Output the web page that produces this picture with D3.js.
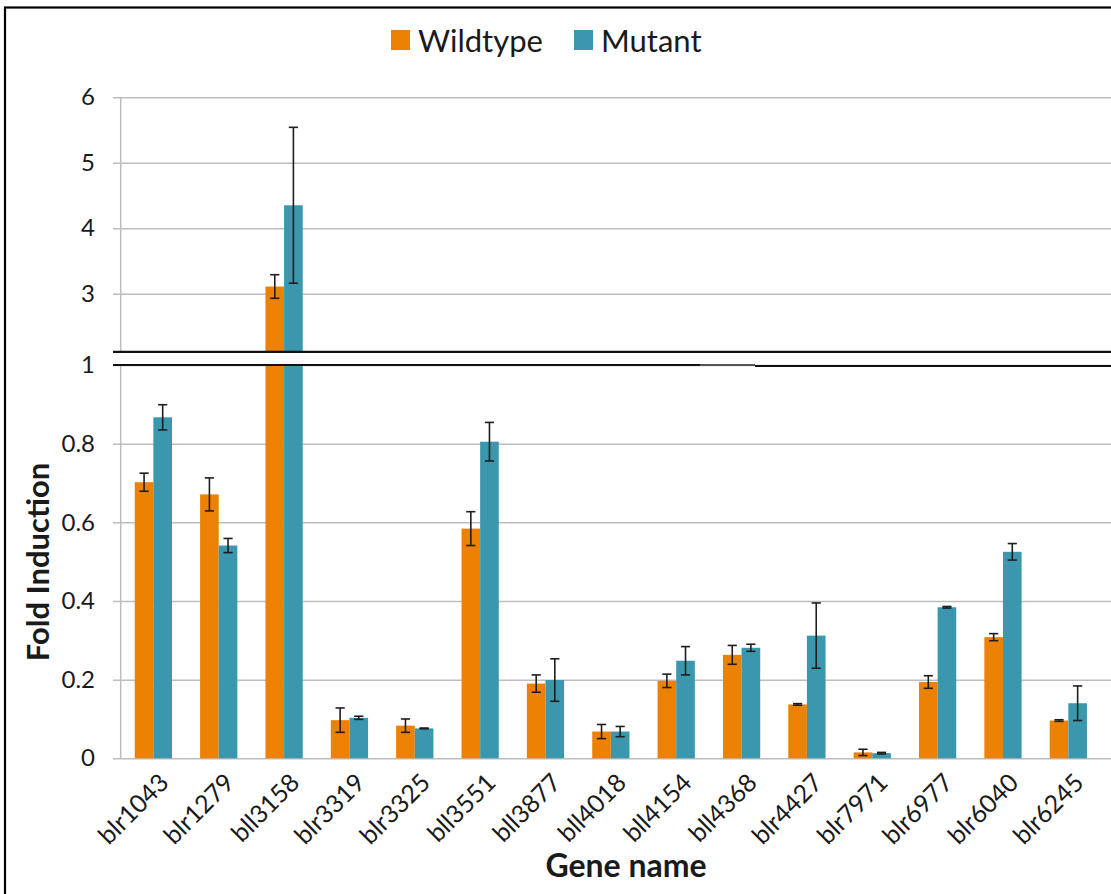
<!DOCTYPE html>
<html>
<head>
<meta charset="utf-8">
<script src="https://cdn.jsdelivr.net/npm/d3@7"></script>
<style>
  html, body { margin: 0; padding: 0; background: #fff; }
  svg { display: block; }
  text { font-family: Lato, "Open Sans", sans-serif; fill: #1a1a1a; }
</style>
</head>
<body>
<script>
// Fold induction per gene, wildtype vs mutant, with a broken y axis
const genes = ["blr1043", "blr1279", "bll3158", "blr3319", "blr3325", "bll3551", "bll3877",
  "bll4018", "bll4154", "bll4368", "blr4427", "blr7971", "blr6977", "blr6040", "blr6245"];
const wildtype    = [0.702, 0.671, 3.11, 0.097, 0.083, 0.584, 0.190, 0.068, 0.197, 0.263, 0.137, 0.015, 0.194, 0.308, 0.096];
const wildtypeErr = [0.023, 0.042, 0.18, 0.031, 0.017, 0.043, 0.022, 0.018, 0.017, 0.024, 0.002, 0.008, 0.016, 0.009, 0.002];
const mutant      = [0.867, 0.541, 4.35, 0.103, 0.076, 0.805, 0.199, 0.068, 0.248, 0.281, 0.312, 0.013, 0.384, 0.525, 0.140];
const mutantErr   = [0.032, 0.018, 1.19, 0.004, 0.001, 0.049, 0.054, 0.013, 0.036, 0.009, 0.083, 0.002, 0.002, 0.021, 0.044];
const seriesNames = ["Wildtype", "Mutant"];
const seriesColors = ["#ED8104", "#3A97AD"];
const lowerTicks = [0, 0.2, 0.4, 0.6, 0.8, 1];
const upperTicks = [3, 4, 5, 6];
const lowerDomain = [0, 1];
const upperDomain = [2.11, 6];

const W = 1111, H = 894;
const axisX = 120.7, gridLeft = 113, gridRight = W;
const plotRight = 1101;
const lowerRange = [758.3, 365];
const upperRange = [352, 97.2];

const svg = d3.select("body").append("svg").attr("width", W).attr("height", H);

// outer frame
svg.append("rect").attr("x", 5).attr("y", 7.5).attr("width", 1300).attr("height", 1200)
  .attr("fill", "none").attr("stroke", "#000").attr("stroke-width", 2.2);

const x0 = d3.scaleBand().domain(genes).range([axisX, plotRight]).paddingInner(0.43).paddingOuter(0.215);
const x1 = d3.scaleBand().domain(seriesNames).range([0, x0.bandwidth()]);
const yLow = d3.scaleLinear().domain(lowerDomain).range(lowerRange);
const yUp = d3.scaleLinear().domain(upperDomain).range(upperRange);

function drawAxis(scale, ticks, fmt) {
  const g = svg.append("g").attr("transform", `translate(${gridLeft},0)`)
    .call(d3.axisLeft(scale).tickValues(ticks).tickFormat(fmt)
      .tickSizeInner(-(gridRight - gridLeft)).tickSizeOuter(0).tickPadding(18));
  g.select(".domain").remove();
  g.selectAll(".tick line").attr("stroke", "#bdbdbd").attr("stroke-width", 1.5);
  g.selectAll(".tick text").attr("font-size", 24).attr("fill", "#1a1a1a");
  return g;
}
drawAxis(yLow, lowerTicks, d => d3.format("")(d));
drawAxis(yUp, upperTicks, d3.format("d"));

// vertical axis lines of both panels
svg.append("line").attr("x1", axisX).attr("x2", axisX).attr("y1", upperRange[1]).attr("y2", upperRange[0])
  .attr("stroke", "#bdbdbd").attr("stroke-width", 1.5);
svg.append("line").attr("x1", axisX).attr("x2", axisX).attr("y1", lowerRange[1]).attr("y2", lowerRange[0])
  .attr("stroke", "#bdbdbd").attr("stroke-width", 1.5);

// bars
const rows = [];
genes.forEach((g, i) => {
  rows.push({ gene: g, s: 0, v: wildtype[i], e: wildtypeErr[i] });
  rows.push({ gene: g, s: 1, v: mutant[i], e: mutantErr[i] });
});

const bars = svg.append("g");
rows.forEach(d => {
  const bx = x0(d.gene) + x1(seriesNames[d.s]);
  const bw = x1.bandwidth();
  const vLow = Math.min(d.v, lowerDomain[1]);
  bars.append("rect").attr("x", bx).attr("width", bw)
    .attr("y", yLow(vLow)).attr("height", yLow(0) - yLow(vLow))
    .attr("fill", seriesColors[d.s]);
  if (d.v > upperDomain[0]) {
    bars.append("rect").attr("x", bx).attr("width", bw)
      .attr("y", yUp(d.v)).attr("height", yUp(upperDomain[0]) - yUp(d.v))
      .attr("fill", seriesColors[d.s]);
  }
});

// error bars
const errs = svg.append("g").attr("stroke", "#1e1e1e").attr("stroke-width", 1.6);
rows.forEach(d => {
  const cx = x0(d.gene) + x1(seriesNames[d.s]) + x1.bandwidth() / 2;
  const y = d.v > lowerDomain[1] ? yUp : yLow;
  const yt = y(d.v + d.e), yb = y(d.v - d.e);
  errs.append("line").attr("x1", cx).attr("x2", cx).attr("y1", yt).attr("y2", yb);
  errs.append("line").attr("x1", cx - 4.6).attr("x2", cx + 4.6).attr("y1", yt).attr("y2", yt);
  errs.append("line").attr("x1", cx - 4.6).attr("x2", cx + 4.6).attr("y1", yb).attr("y2", yb);
});

// axis break marks
const brk = svg.append("g").attr("stroke", "#111").attr("stroke-width", 2.2);
brk.append("line").attr("x1", gridLeft).attr("x2", gridRight).attr("y1", 351.8).attr("y2", 351.8);
brk.append("line").attr("x1", gridLeft).attr("x2", 700).attr("y1", 365).attr("y2", 365);
brk.append("line").attr("x1", 700).attr("x2", 755).attr("y1", 365).attr("y2", 365)
  .attr("stroke", "#555").attr("stroke-width", 1.8);
brk.append("line").attr("x1", 755).attr("x2", gridRight).attr("y1", 366).attr("y2", 366);

// category labels
const xa = svg.append("g").attr("transform", `translate(0,${lowerRange[0]})`)
  .call(d3.axisBottom(x0).tickSize(0).tickPadding(0));
xa.select(".domain").remove();
xa.selectAll(".tick text")
  .attr("font-size", 25)
  .attr("text-anchor", "end")
  .attr("dy", 0)
  .attr("transform", "translate(17,26) rotate(-45)");

// axis titles
svg.append("text").attr("x", 626).attr("y", 877).attr("text-anchor", "middle")
  .attr("font-size", 32).attr("font-weight", "bold").text("Gene name");
svg.append("text").attr("transform", "translate(49,562) rotate(-90)").attr("text-anchor", "middle")
  .attr("font-size", 31).attr("font-weight", "bold").text("Fold Induction");

// legend
const leg = svg.append("g");
const legX = [391, 574];
seriesNames.forEach((n, i) => {
  leg.append("rect").attr("x", legX[i]).attr("y", 30).attr("width", 19).attr("height", 20)
    .attr("fill", seriesColors[i]);
  leg.append("text").attr("x", legX[i] + 27).attr("y", 52).attr("font-size", 31).text(n);
});
</script>
</body>
</html>
